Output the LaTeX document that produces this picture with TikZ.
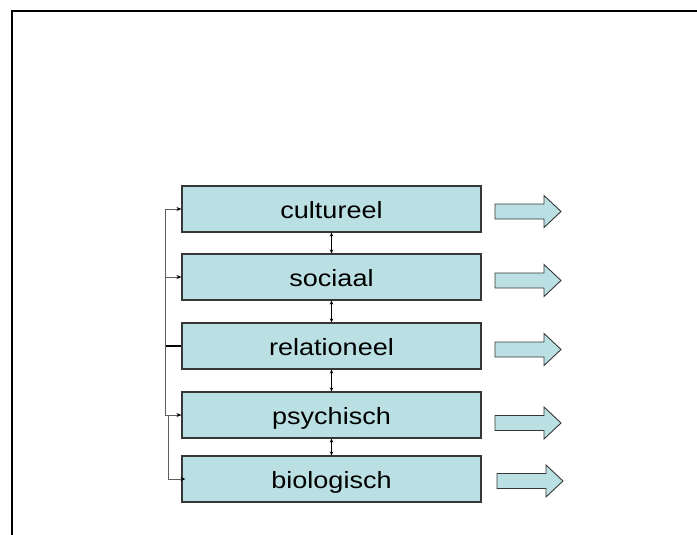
\documentclass[tikz,border=0pt]{standalone}
\usepackage{fontspec}
\usetikzlibrary{arrows.meta}
\newfontfamily\labfont[FakeStretch=1.15]{Liberation Sans}
\definecolor{boxfill}{RGB}{187,224,227}
\definecolor{boxline}{RGB}{55,55,55}
\definecolor{busline}{RGB}{95,95,95}
\tikzset{
  layerbox/.style={draw=boxline, fill=boxfill, line width=1.1pt, minimum width=299pt, minimum height=46pt, inner sep=0pt,
    text height=24pt, text depth=5pt, font=\labfont\fontsize{23.5}{28}\selectfont},
  linkarrow/.style={draw=black, line width=0.7pt, {Stealth[length=4pt,width=3.5pt]}-{Stealth[length=4pt,width=3.5pt]}},
  busarrow/.style={draw=busline, line width=0.8pt, -{Stealth[length=5pt,width=4pt,color=black]}},
  busbase/.style={draw=busline, line width=0.9pt},
  framestyle/.style={draw=black, line width=2pt},
  arrowbox/.style={draw=boxline, fill=boxfill, line width=0.9pt, line join=miter},
  pics/blockarrow/.style={code={
    \draw[arrowbox] (0,-7.5) -- (49,-7.5) -- (49,-16) -- (66,0) -- (49,16) -- (49,7.5) -- (0,7.5) -- cycle;}}
}
\begin{document}
\begin{tikzpicture}[x=1pt,y=-1pt]
\useasboundingbox (0,0) rectangle (697,535);
% frame
\draw[framestyle] (12,535) -- (12,11) -- (697,11);
% boxes
\node[layerbox] (cul) at (331.5,209) {cultureel};
\node[layerbox] (soc) at (331.5,277) {sociaal};
\node[layerbox] (rel) at (331.5,346) {relationeel};
\node[layerbox] (psy) at (331.5,415) {psychisch};
\node[layerbox] (bio) at (331.5,479) {biologisch};
% links between layers
\draw[linkarrow] (cul.south) -- (soc.north);
\draw[linkarrow] (soc.south) -- (rel.north);
\draw[linkarrow] (rel.south) -- (psy.north);
\draw[linkarrow] (psy.south) -- (bio.north);
% bus on the left
\coordinate (busA) at (165,346);
\coordinate (busB) at (168,415);
\draw[line width=1.1pt, black] (rel.west) -- (busA);
\draw[busbase] (busA |- cul.west) -- (busA |- psy.west);
\draw[busbase] (busA |- psy.west) -- (busB) -- (busB |- bio.west);
\draw[busarrow] (busA |- cul.west) -- (cul.west);
\draw[busarrow] (busA |- soc.west) -- (soc.west);
\draw[busarrow] (busA |- psy.west) -- (psy.west);
\draw[busarrow] (busB |- bio.west) -- ([xshift=4pt]bio.west);
% block arrows
\pic at (495,211.5) {blockarrow};
\pic at (495,280.5) {blockarrow};
\pic at (495,349.5) {blockarrow};
\pic at (495,423) {blockarrow};
\pic at (497,481) {blockarrow};
\end{tikzpicture}
\end{document}
